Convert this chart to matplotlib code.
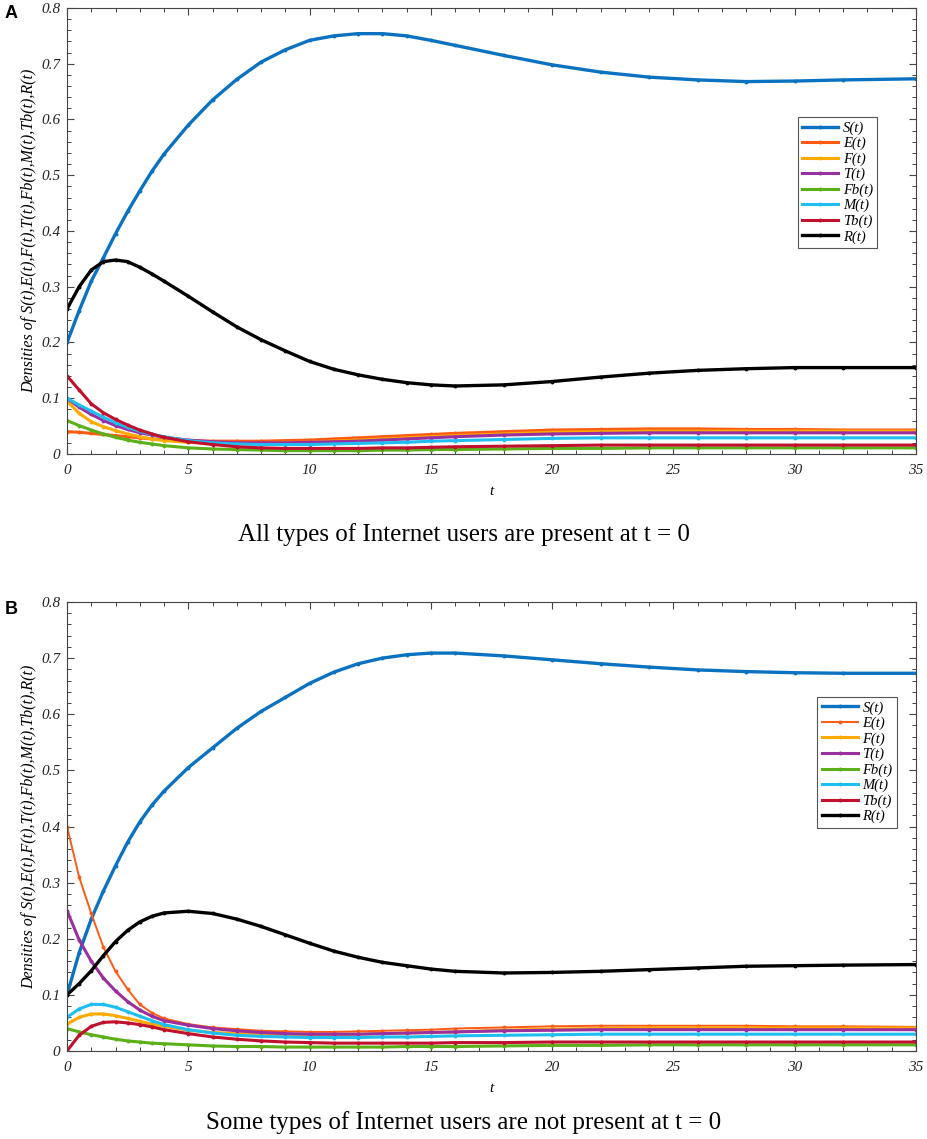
import matplotlib
matplotlib.use("Agg")
import matplotlib.pyplot as plt
from matplotlib.ticker import MultipleLocator

plt.rcParams['font.family'] = ['Liberation Serif', 'DejaVu Serif']

# time points
t = [0, 0.5, 1, 1.5, 2, 2.5, 3, 3.5, 4, 5, 6, 7, 8, 9, 10, 11, 12, 13, 14, 15,
     16, 18, 20, 22, 24, 26, 28, 30, 32, 35]

labels = ["S(t)", "E(t)", "F(t)", "T(t)", "Fb(t)", "M(t)", "Tb(t)", "R(t)"]
colors = ["#0a72c0", "#ff5a14", "#ffaa00", "#9a2fa0", "#5bb01a", "#1ebef0", "#c0102e", "#000000"]

# panel A: all types present at t = 0
S_a = [0.20, 0.257, 0.31, 0.352, 0.395, 0.435, 0.472, 0.507, 0.538, 0.59, 0.635, 0.672, 0.703,
       0.725, 0.742, 0.75, 0.754, 0.754, 0.75, 0.742, 0.733, 0.715, 0.698, 0.685, 0.676,
       0.671, 0.668, 0.669, 0.671, 0.673]
E_a = [0.04, 0.039, 0.037, 0.035, 0.033, 0.031, 0.029, 0.027, 0.026, 0.024, 0.023, 0.023,
       0.023, 0.024, 0.025, 0.027, 0.029, 0.031, 0.033, 0.035, 0.037, 0.04, 0.043, 0.044,
       0.045, 0.045, 0.044, 0.044, 0.043, 0.043]
F_a = [0.095, 0.073, 0.058, 0.049, 0.042, 0.036, 0.031, 0.027, 0.024, 0.021, 0.019, 0.019,
       0.019, 0.02, 0.021, 0.023, 0.025, 0.027, 0.029, 0.031, 0.033, 0.036, 0.039, 0.04,
       0.041, 0.041, 0.041, 0.041, 0.041, 0.041]
T_a = [0.10, 0.084, 0.071, 0.06, 0.051, 0.044, 0.038, 0.034, 0.03, 0.025, 0.022, 0.02,
       0.02, 0.02, 0.021, 0.022, 0.023, 0.025, 0.027, 0.029, 0.031, 0.034, 0.036, 0.037,
       0.038, 0.038, 0.038, 0.038, 0.038, 0.038]
Fb_a = [0.06, 0.051, 0.043, 0.036, 0.03, 0.025, 0.021, 0.018, 0.015, 0.011, 0.009, 0.008,
        0.007, 0.006, 0.006, 0.006, 0.006, 0.007, 0.007, 0.008, 0.008, 0.009, 0.01, 0.01,
        0.011, 0.011, 0.011, 0.011, 0.011, 0.011]
M_a = [0.10, 0.088, 0.077, 0.066, 0.056, 0.048, 0.041, 0.035, 0.031, 0.024, 0.02, 0.018,
       0.017, 0.017, 0.017, 0.018, 0.019, 0.02, 0.021, 0.023, 0.024, 0.026, 0.028, 0.029,
       0.029, 0.029, 0.029, 0.029, 0.029, 0.029]
Tb_a = [0.14, 0.115, 0.09, 0.074, 0.062, 0.052, 0.043, 0.036, 0.03, 0.022, 0.017, 0.013,
        0.011, 0.01, 0.01, 0.01, 0.01, 0.011, 0.011, 0.012, 0.013, 0.014, 0.015, 0.016,
        0.016, 0.016, 0.016, 0.016, 0.016, 0.016]
R_a = [0.26, 0.30, 0.33, 0.345, 0.348, 0.345, 0.335, 0.323, 0.31, 0.283, 0.255, 0.228,
       0.205, 0.185, 0.166, 0.152, 0.142, 0.134, 0.128, 0.124, 0.122, 0.124, 0.13, 0.138,
       0.145, 0.15, 0.153, 0.155, 0.155, 0.155]

# panel B: some types absent at t = 0
S_b = [0.10, 0.175, 0.235, 0.285, 0.33, 0.372, 0.408, 0.438, 0.463, 0.505, 0.54, 0.575,
       0.605, 0.63, 0.655, 0.675, 0.69, 0.70, 0.706, 0.709, 0.709, 0.704, 0.697, 0.69,
       0.684, 0.679, 0.676, 0.674, 0.673, 0.673]
E_b = [0.40, 0.31, 0.245, 0.185, 0.142, 0.11, 0.083, 0.068, 0.058, 0.048, 0.042, 0.039,
       0.036, 0.035, 0.034, 0.034, 0.035, 0.036, 0.037, 0.038, 0.04, 0.042, 0.044, 0.045,
       0.045, 0.045, 0.045, 0.044, 0.044, 0.043]
F_b = [0.048, 0.06, 0.066, 0.066, 0.063, 0.058, 0.053, 0.048, 0.044, 0.037, 0.033, 0.031,
       0.03, 0.029, 0.029, 0.029, 0.03, 0.031, 0.032, 0.033, 0.034, 0.037, 0.039, 0.04,
       0.041, 0.041, 0.041, 0.041, 0.041, 0.041]
T_b = [0.25, 0.198, 0.16, 0.13, 0.107, 0.088, 0.073, 0.062, 0.054, 0.046, 0.04, 0.036,
       0.033, 0.031, 0.03, 0.03, 0.03, 0.031, 0.032, 0.033, 0.034, 0.036, 0.037, 0.038,
       0.038, 0.038, 0.038, 0.038, 0.038, 0.038]
Fb_b = [0.04, 0.034, 0.029, 0.025, 0.021, 0.018, 0.016, 0.014, 0.013, 0.011, 0.009, 0.008,
        0.008, 0.007, 0.007, 0.007, 0.007, 0.007, 0.008, 0.008, 0.008, 0.009, 0.01, 0.01,
        0.011, 0.011, 0.011, 0.011, 0.011, 0.011]
M_b = [0.06, 0.075, 0.083, 0.083, 0.078, 0.07, 0.062, 0.054, 0.047, 0.038, 0.032, 0.028,
       0.026, 0.025, 0.024, 0.024, 0.024, 0.025, 0.025, 0.026, 0.027, 0.028, 0.029, 0.03,
       0.03, 0.03, 0.03, 0.03, 0.03, 0.03]
Tb_b = [0.0, 0.028, 0.044, 0.051, 0.052, 0.05, 0.047, 0.043, 0.038, 0.031, 0.025, 0.021,
        0.018, 0.016, 0.015, 0.014, 0.014, 0.014, 0.014, 0.014, 0.015, 0.015, 0.016, 0.016,
        0.016, 0.016, 0.016, 0.016, 0.016, 0.016]
R_b = [0.10, 0.12, 0.143, 0.17, 0.195, 0.215, 0.23, 0.24, 0.246, 0.249, 0.245, 0.235,
       0.222, 0.207, 0.192, 0.178, 0.167, 0.158, 0.152, 0.146, 0.142, 0.139, 0.14, 0.142,
       0.145, 0.148, 0.151, 0.152, 0.153, 0.154]

series_a = [S_a, E_a, F_a, T_a, Fb_a, M_a, Tb_a, R_a]
series_b = [S_b, E_b, F_b, T_b, Fb_b, M_b, Tb_b, R_b]
widths_a = [2.4, 2.2, 2.2, 2.2, 2.2, 2.2, 2.2, 2.4]
widths_b = [2.4, 1.4, 2.2, 2.2, 2.2, 2.2, 2.2, 2.4]

W, H = 927, 1139
fig = plt.figure(figsize=(W / 100, H / 100), dpi=100)


def panel(rect, series, widths, leg_xy, caption, cap_y, letter, letter_y):
    ax = fig.add_axes(rect)
    for y, lab, c, lw in zip(series, labels, colors, widths):
        ax.plot(t, y, color=c, lw=lw, marker='.', ms=3.6, label=lab)
    ax.set_xlim(0, 35)
    ax.set_ylim(0, 0.8)
    ax.xaxis.set_major_locator(MultipleLocator(5))
    ax.xaxis.set_minor_locator(MultipleLocator(1))
    ax.yaxis.set_minor_locator(MultipleLocator(0.02))
    ax.set_yticks([0, 0.1, 0.2, 0.3, 0.4, 0.5, 0.6, 0.7, 0.8])
    ax.set_yticklabels(['0', '0.1', '0.2', '0.3', '0.4', '0.5', '0.6', '0.7', '0.8'])
    ax.tick_params(which='both', direction='in', top=True, right=True, colors='#444444',
                   labelcolor='#222222')
    ax.tick_params(which='major', length=5, width=0.8)
    ax.tick_params(which='minor', length=3, width=0.7)
    ax.tick_params(axis='x', pad=7)
    ax.tick_params(axis='y', pad=5)
    for lbl in ax.get_xticklabels() + ax.get_yticklabels():
        lbl.set_fontstyle('italic')
        lbl.set_fontsize(11)
    for sp in ax.spines.values():
        sp.set_color('#444444')
        sp.set_linewidth(0.8)
    ax.set_xlabel('t', fontstyle='italic', fontsize=11, labelpad=6)
    ax.set_ylabel('Densities of S(t),E(t),F(t),T(t),Fb(t),M(t),Tb(t),R(t)',
                  fontstyle='italic', fontsize=11.5, labelpad=3)
    leg = ax.legend(loc='upper left', bbox_to_anchor=leg_xy, fancybox=False,
                    edgecolor='#555555', framealpha=1, borderpad=0.3,
                    labelspacing=0.14, handlelength=2.5, handletextpad=0.3,
                    prop={'family': 'Liberation Serif', 'style': 'italic', 'size': 10.5})
    leg.get_frame().set_linewidth(0.8)
    fig.text(0.5, 1 - cap_y / H, caption, ha='center', va='center', fontsize=18,
             family='Liberation Serif')
    fig.text(5 / W, 1 - letter_y / H, letter, ha='left', va='center', fontsize=13,
             fontweight='bold', family='Liberation Sans')
    return ax


panel([67 / W, 1 - 454 / H, 849 / W, 446 / H], series_a, widths_a, (0.852, 0.772),
      'All types of Internet users are present at t = 0', 535, 'A', 13)
panel([67 / W, 1 - 1051 / H, 849 / W, 449 / H], series_b, widths_b, (0.875, 0.805),
      'Some types of Internet users are not present at t = 0', 1123, 'B', 610)

fig.savefig('out.png', dpi=100)
